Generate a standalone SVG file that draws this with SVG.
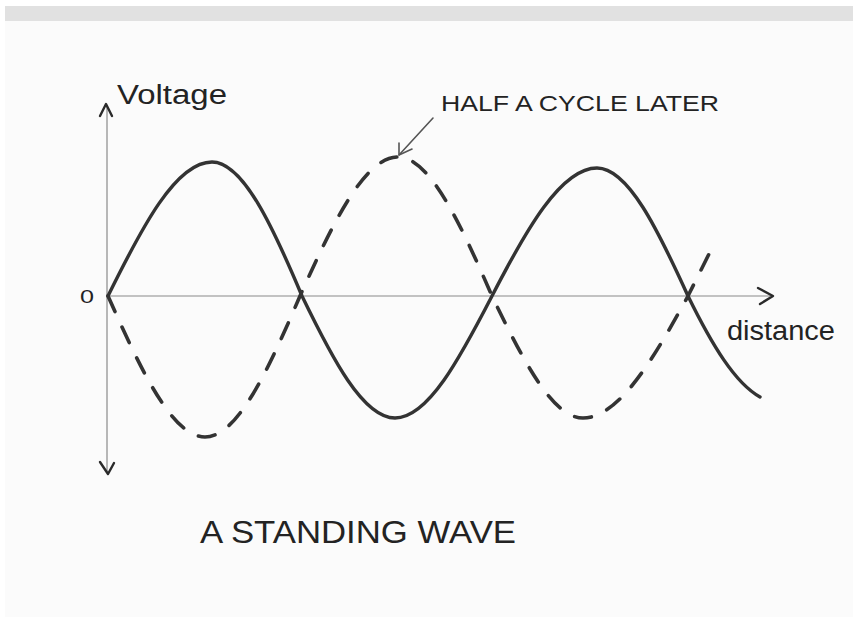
<svg xmlns="http://www.w3.org/2000/svg" width="853" height="617" viewBox="0 0 853 617">
<style>
.txt{font-family:"Liberation Sans","DejaVu Sans",sans-serif;fill:#232323}
.axis{stroke:#8a8a8a;stroke-width:1.2;fill:none}
.tick{stroke:#2a2a2a;stroke-width:2.4;fill:none;stroke-linecap:round;stroke-linejoin:round}
.wave{stroke:#333;stroke-width:3.4;fill:none;stroke-linecap:round}
.dash{stroke:#333;stroke-width:3.6;fill:none;stroke-linecap:round;stroke-dasharray:17 17}
.conn{stroke:#555;stroke-width:1.6;fill:none;stroke-linecap:round;stroke-linejoin:round}
</style>
<rect x="0" y="0" width="853" height="617" fill="#ffffff"/>
<rect x="5" y="6" width="848" height="611" fill="#fbfbfb"/>
<rect x="5" y="6" width="848" height="15" fill="#e1e1e1"/>
<g id="axes">
<line class="axis" x1="107" y1="106" x2="107" y2="472"/>
<line class="axis" x1="107" y1="296" x2="770" y2="296"/>
<polyline class="tick" points="100,116 106,104 112,116"/>
<polyline class="tick" points="100,462 108,474 114,463"/>
<polyline class="tick" points="758,288 773,296 760,304"/>
</g>
<g id="solid-wave">
<path class="wave" d="M108,296 C142,227 176,162 212,162 C243,162 273,227 302,296 C332,358 363,418 395,418 C428,418 460,358 492,296 C526,230 561,168 597,168 C628,168 658,230 688,296 C712,345 735,383 760,397"/>
</g>
<g id="dashed-wave">
<path class="dash" d="M108,296 C140,368 172,437 205,437 C238,437 269,368 300,296 C332,225 364,157 398,157 C430,157 461,225 492,296 C522,358 552,418 583,418 C619,418 654,358 688,296 C697,278 706,260 715,242"/>
</g>
<g id="label-voltage"><text class="txt" x="117" y="104" font-size="27" textLength="110" lengthAdjust="spacingAndGlyphs">Voltage</text></g>
<g id="label-zero"><text class="txt" x="80" y="303" font-size="19" textLength="14" lengthAdjust="spacingAndGlyphs">0</text></g>
<g id="label-distance"><text class="txt" x="727" y="340" font-size="27" textLength="108" lengthAdjust="spacingAndGlyphs">distance</text></g>
<g id="label-half"><text class="txt" x="441" y="111" font-size="22" textLength="278" lengthAdjust="spacingAndGlyphs">HALF A CYCLE LATER</text></g>
<g id="title"><text class="txt" x="200" y="543" font-size="32" textLength="316" lengthAdjust="spacingAndGlyphs">A STANDING WAVE</text></g>
<g id="connectors">
<line class="conn" x1="433" y1="118" x2="399" y2="155"/>
<polyline class="conn" points="399,143 399,155 412,149"/>
</g>
</svg>
